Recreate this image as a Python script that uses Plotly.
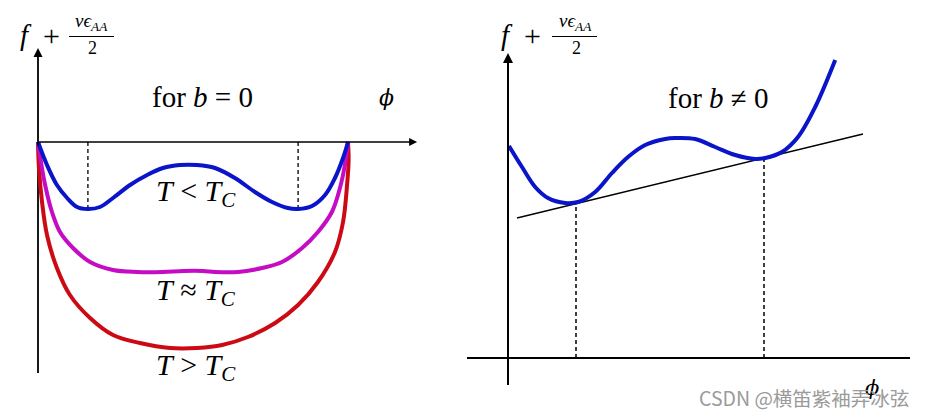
import plotly.graph_objects as go

# ---------------- data ----------------
# Left panel: phi in [0,1], f + nu*eps/2 in arbitrary units
phi_low = [0, 0.029, 0.061, 0.094, 0.126, 0.161, 0.2, 0.242, 0.297, 0.352, 0.403, 0.458,
           0.513, 0.571, 0.635, 0.7, 0.755, 0.806, 0.839, 0.884, 0.926, 0.958, 0.984, 1.0]
f_low = [0, -0.23, -0.43, -0.56, -0.65, -0.67, -0.65, -0.56, -0.43, -0.33, -0.26, -0.23,
         -0.23, -0.26, -0.36, -0.50, -0.60, -0.66, -0.67, -0.64, -0.53, -0.36, -0.16, 0]

phi_crit = [0, 0.006, 0.023, 0.045, 0.071, 0.113, 0.168, 0.242, 0.319, 0.403, 0.468, 0.532,
            0.571, 0.645, 0.723, 0.787, 0.852, 0.903, 0.948, 0.974, 0.990, 1.0]
f_crit = [0, -0.13, -0.43, -0.70, -0.90, -1.06, -1.20, -1.28, -1.30, -1.30, -1.29, -1.29,
          -1.30, -1.30, -1.26, -1.20, -1.06, -0.90, -0.70, -0.46, -0.23, 0]

phi_high = [0, 0.003, 0.013, 0.029, 0.061, 0.103, 0.168, 0.242, 0.329, 0.426, 0.513, 0.594,
            0.677, 0.765, 0.839, 0.903, 0.958, 0.984, 0.997, 1.002, 1.0]
f_high = [0, -0.26, -0.60, -0.93, -1.26, -1.53, -1.76, -1.93, -2.01, -2.06, -2.06, -2.03,
          -1.95, -1.81, -1.63, -1.40, -1.10, -0.80, -0.43, -0.18, 0]

binodal_left = [0.161, 0.839]
binodal_left_f = [-0.67, -0.67]

# Right panel
phi_b = [0.0025, 0.035, 0.068, 0.1, 0.143, 0.175, 0.218, 0.26, 0.3, 0.343, 0.393, 0.418,
         0.468, 0.518, 0.568, 0.618, 0.643, 0.685, 0.725, 0.768, 0.818]
f_b = [2.12, 1.91, 1.71, 1.60, 1.55, 1.56, 1.66, 1.85, 2.01, 2.13, 2.19, 2.20,
       2.19, 2.11, 2.03, 1.99, 2.00, 2.06, 2.21, 2.51, 2.98]

tangent_phi = [0.0225, 0.8875]
tangent_f = [1.40, 2.24]

binodal_right = [0.17, 0.64]
binodal_right_f = [1.55, 2.00]

# ---------------- layout geometry ----------------
# The page body has an 8px margin, so the figure is placed 8px in from the
# window's top-left corner; the figure is sized to fill the rest of the window.
OFF = 8
WIN_W, WIN_H = 925, 417
W, H = WIN_W - OFF, WIN_H - OFF
SPLIT = 453  # window x where the two panels meet


def lin_range(p0, p1, v0, v1, q0, q1):
    """value range at window pixels q0,q1 given v0 at p0 and v1 at p1"""
    s = (v1 - v0) / (p1 - p0)
    return [v0 + (q0 - p0) * s, v0 + (q1 - p0) * s]


xr1 = lin_range(38, 348, 0, 1, OFF, SPLIT)
yr1 = lin_range(142, 242, 0, -1, WIN_H, OFF)
xr2 = lin_range(508, 908, 0, 1, SPLIT, WIN_W)
yr2 = lin_range(358, 258, 0, 1, WIN_H, OFF)
dsplit = (SPLIT - OFF) / W

# ---------------- styling ----------------
BLUE = "#0a14c8"
MAGENTA = "#c40cc4"
RED = "#cc0a14"
SERIF = "Liberation Serif"
MATHF = "DejaVu Serif"
SMOOTH = 1.0

fig = go.Figure()

for p, fv in zip(binodal_left, binodal_left_f):
    fig.add_trace(go.Scatter(x=[p, p], y=[0, fv], mode="lines",
                             line=dict(color="black", width=1.3, dash="4px,3px"),
                             xaxis="x", yaxis="y", hoverinfo="skip"))
for p, fv in zip(binodal_right, binodal_right_f):
    fig.add_trace(go.Scatter(x=[p, p], y=[0, fv], mode="lines",
                             line=dict(color="black", width=1.5, dash="4px,3px"),
                             xaxis="x2", yaxis="y2", hoverinfo="skip"))

fig.add_trace(go.Scatter(x=[0, 0], y=[-2.31, 0.0], mode="lines",
                         line=dict(color="black", width=1.8), xaxis="x", yaxis="y",
                         hoverinfo="skip"))
fig.add_trace(go.Scatter(x=[-0.1025, 1.005], y=[0, 0], mode="lines",
                         line=dict(color="black", width=2), xaxis="x2", yaxis="y2",
                         hoverinfo="skip"))
fig.add_trace(go.Scatter(x=[0, 0], y=[-0.27, 2.0], mode="lines",
                         line=dict(color="black", width=2), xaxis="x2", yaxis="y2",
                         hoverinfo="skip"))
fig.add_trace(go.Scatter(x=tangent_phi, y=tangent_f, mode="lines",
                         line=dict(color="black", width=1.3), xaxis="x2", yaxis="y2",
                         hoverinfo="skip"))

fig.add_trace(go.Scatter(x=phi_high, y=f_high, mode="lines",
                         line=dict(color=RED, width=4, shape="spline", smoothing=SMOOTH),
                         xaxis="x", yaxis="y", name="T > Tc"))
fig.add_trace(go.Scatter(x=phi_crit, y=f_crit, mode="lines",
                         line=dict(color=MAGENTA, width=4, shape="spline", smoothing=SMOOTH),
                         xaxis="x", yaxis="y", name="T ≈ Tc"))
fig.add_trace(go.Scatter(x=phi_low, y=f_low, mode="lines",
                         line=dict(color=BLUE, width=4, shape="spline", smoothing=SMOOTH),
                         xaxis="x", yaxis="y", name="T < Tc"))
fig.add_trace(go.Scatter(x=phi_b, y=f_b, mode="lines",
                         line=dict(color=BLUE, width=4, shape="spline", smoothing=SMOOTH),
                         xaxis="x2", yaxis="y2", name="b != 0"))

ann = []
ann.append(dict(x=1.223, y=0, ax=0, ay=0, xref="x", yref="y", axref="x", ayref="y",
                text="", showarrow=True, arrowhead=2, arrowsize=1, arrowwidth=1.6,
                arrowcolor="black", standoff=0, startstandoff=0))
ann.append(dict(x=0, y=0.94, ax=0, ay=-0.05, xref="x", yref="y", axref="x", ayref="y",
                text="", showarrow=True, arrowhead=2, arrowsize=1, arrowwidth=1.8,
                arrowcolor="black", standoff=0, startstandoff=0))
ann.append(dict(x=0, y=3.05, ax=0, ay=1.9, xref="x2", yref="y2", axref="x2", ayref="y2",
                text="", showarrow=True, arrowhead=2, arrowsize=1, arrowwidth=2,
                arrowcolor="black", standoff=0, startstandoff=0))


def txt(x, y, s, xr, yr, size=25, font=SERIF, color="black", xanchor="center"):
    return dict(x=x, y=y, xref=xr, yref=yr, text=s, showarrow=False,
                font=dict(family=font, size=size, color=color),
                xanchor=xanchor, yanchor="middle")


SP = "&nbsp;"
ann.append(txt(0.532, 0.45, "for" + SP + "<i>b</i>" + SP + "=" + SP + "0", "x", "y", 29))
ann.append(txt(1.123, 0.45, "<i>ϕ</i>", "x", "y", 22, MATHF))
ann.append(txt(0.51, -0.51, "<i>T</i>" + SP + "&lt;" + SP + "<i>T</i><sub><i>C</i></sub>", "x", "y", 30))
ann.append(txt(0.51, -1.50, "<i>T</i>" + SP + "≈" + SP + "<i>T</i><sub><i>C</i></sub>", "x", "y", 30))
ann.append(txt(0.51, -2.25, "<i>T</i>" + SP + "&gt;" + SP + "<i>T</i><sub><i>C</i></sub>", "x", "y", 30))

ann.append(txt(0.525, 2.60, "for" + SP + "<i>b</i>" + SP + "≠" + SP + "0", "x2", "y2", 29))
ann.append(txt(0.91, -0.30, "<i>ϕ</i>", "x2", "y2", 21, MATHF))


def ptxt(px, py, s, size, font=SERIF, color="black", xanchor="center", yanchor="middle"):
    return dict(x=(px - OFF) / W, y=1 - (py - OFF) / H, xref="paper", yref="paper", text=s,
                showarrow=False, font=dict(family=font, size=size, color=color),
                xanchor=xanchor, yanchor=yanchor, borderpad=0)


for fx, plx, numx in [(26, 51, 91), (507, 532, 575)]:
    ann.append(ptxt(fx, 35, "<i>f</i>", 29))
    ann.append(ptxt(plx, 36, "+", 30))
    ann.append(ptxt(numx, 35.5, "<i>νϵ</i><sub><i>AA</i></sub>", 19, yanchor="bottom"))
    ann.append(ptxt(numx + 1, 37.5, "2", 18, yanchor="top"))

shapes = []
for x0, x1 in [(69, 114), (552, 597)]:
    shapes.append(dict(type="line", xref="paper", yref="paper",
                       x0=(x0 - OFF) / W, x1=(x1 - OFF) / W,
                       y0=1 - (36.5 - OFF) / H, y1=1 - (36.5 - OFF) / H,
                       line=dict(color="black", width=1)))

ann.append(ptxt(910, 397, "CSDN @横笛紫袖弄冰弦", 19.5, "Noto Sans CJK SC",
                "#9a9a9a", "right"))

axis_common = dict(visible=False, showgrid=False, zeroline=False, fixedrange=True)
fig.update_layout(
    width=W, height=H,
    margin=dict(l=0, r=0, t=0, b=0),
    paper_bgcolor="white", plot_bgcolor="white",
    showlegend=False,
    xaxis=dict(domain=[0, dsplit], range=xr1, **axis_common),
    yaxis=dict(domain=[0, 1], range=yr1, **axis_common),
    xaxis2=dict(domain=[dsplit, 1], range=xr2, anchor="y2", **axis_common),
    yaxis2=dict(domain=[0, 1], range=yr2, anchor="x2", **axis_common),
    annotations=ann,
    shapes=shapes,
)

fig.write_html("out.html")
